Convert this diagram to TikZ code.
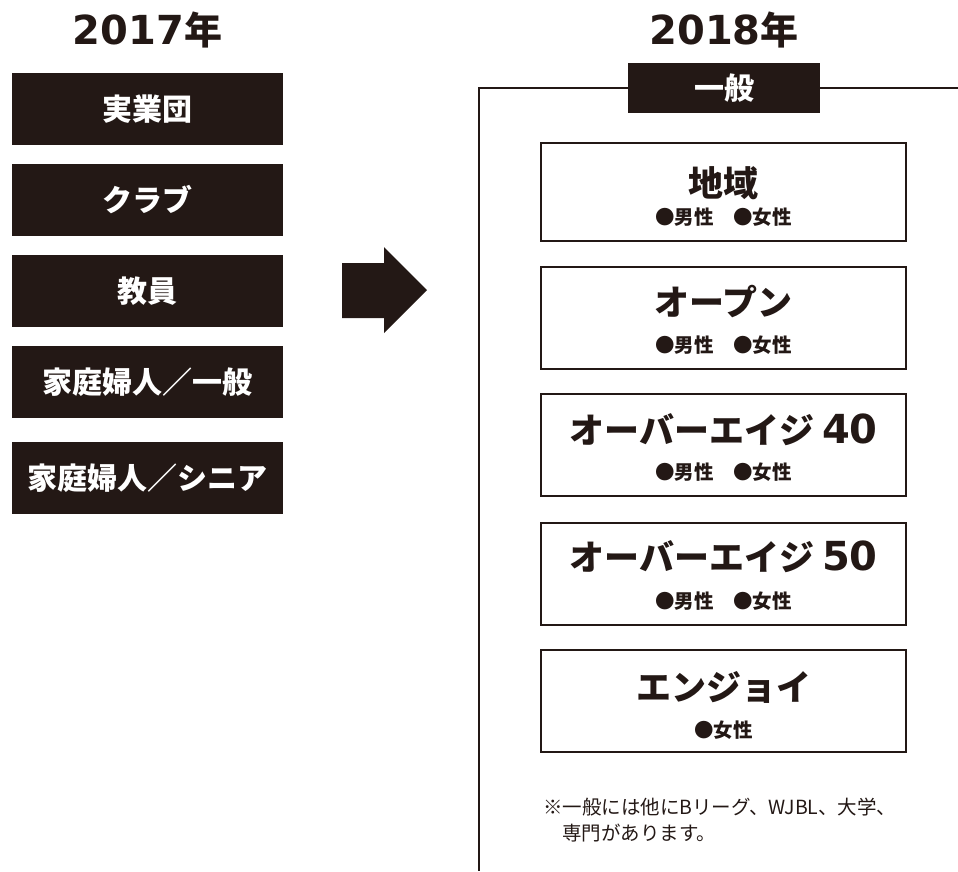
\documentclass[tikz,border=0pt]{standalone}
\usepackage{fontspec}
\setmainfont{Noto Sans CJK JP}
\newfontfamily\digitfont{DejaVu Sans}
\definecolor{ink}{HTML}{231815}
\begin{document}
\begin{tikzpicture}[x=1pt,y=-1pt,
  every node/.style={inner sep=0pt,outer sep=0pt,text=ink},
  oldbox/.style={fill=ink,minimum width=271pt,minimum height=72pt,text=white,font=\fontsize{30}{30}\selectfont\bfseries},
  newbox/.style={draw=ink,line width=2pt,minimum width=365pt},
  tabbox/.style={fill=ink,minimum width=192pt,minimum height=50pt,text=white,font=\fontsize{30}{30}\selectfont\bfseries},
  maintext/.style={anchor=base,font=\fontsize{35}{35}\selectfont\bfseries},
  subtext/.style={anchor=base,font=\fontsize{19.5}{19.5}\selectfont\bfseries},
  titletext/.style={anchor=base,font=\fontsize{38}{38}\selectfont\bfseries},
  notetext/.style={anchor=base west,font=\fontsize{19.5}{19.5}\selectfont},
  bracket/.style={draw=ink,line width=2pt}
]
\useasboundingbox (0,0) rectangle (958,871);

% titles
\node[titletext] (t1) at (147.5,44) {{\digitfont\fontsize{40}{40}\selectfont 2017}年};
\node[titletext] (t2) at (724,44) {{\digitfont\fontsize{40}{40}\selectfont 2018}年};

% 2017 boxes
\node[oldbox] (a1) at (147.5,109) {実業団};
\node[oldbox] (a2) at (147.5,200) {クラブ};
\node[oldbox] (a3) at (147.5,291) {教員};
\node[oldbox] (a4) at (147.5,382) {家庭婦人／一般};
\node[oldbox] (a5) at (147.5,478) {家庭婦人／シニア};

% arrow
\fill[ink] (342,263) -- (384,263) -- (384,247) -- (427,290) -- (384,333) -- (384,318) -- (342,318) -- cycle;

% bracket
\coordinate (br1) at (958,88);
\coordinate (br2) at (479,88);
\coordinate (br3) at (479,871);
\draw[bracket] (br1) -- (br2) -- (br3);
\node[tabbox] (tab) at (724,88) {一般};

% 2018 boxes
\node[newbox,minimum height=98pt] (b1) at (723.5,192) {};
\node[newbox,minimum height=102pt] (b2) at (723.5,318) {};
\node[newbox,minimum height=102pt] (b3) at (723.5,445) {};
\node[newbox,minimum height=102pt] (b4) at (723.5,574) {};
\node[newbox,minimum height=102pt] (b5) at (723.5,701) {};

\node[maintext] (m1) at (723.5,196) {地域};
\node[subtext] (s1) at (723.5,224.4) {●男性　●女性};
\node[maintext] (m2) at (723.5,315) {オープン};
\node[subtext] (s2) at (723.5,352.4) {●男性　●女性};
\node[maintext] (m3) at (723.5,443) {オーバーエイジ\hspace{8pt}{\digitfont\fontsize{40}{40}\selectfont 40}};
\node[subtext] (s3) at (723.5,479.4) {●男性　●女性};
\node[maintext] (m4) at (723.5,570) {オーバーエイジ\hspace{8pt}{\digitfont\fontsize{40}{40}\selectfont 50}};
\node[subtext] (s4) at (723.5,608.4) {●男性　●女性};
\node[maintext] (m5) at (723.5,700) {エンジョイ};
\node[subtext] (s5) at (723.5,737.4) {●女性};

% note
\node[notetext] (n1) at (543,814) {※一般には他にBリーグ、WJBL、大学、};
\node[notetext] (n2) at (562,840) {専門があります。};
\end{tikzpicture}
\end{document}
